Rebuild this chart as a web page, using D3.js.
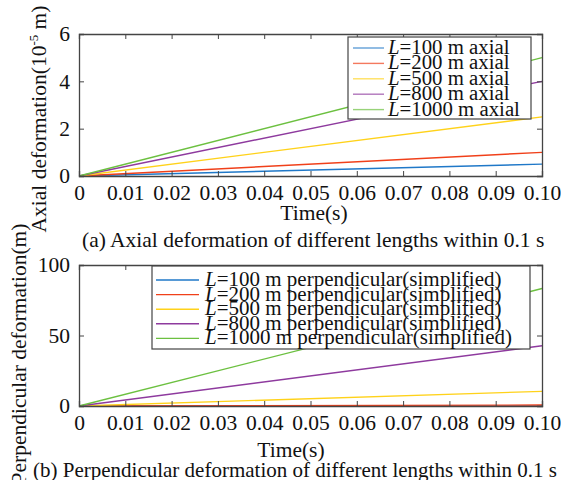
<!DOCTYPE html>
<html><head><meta charset="utf-8">
<script src="https://cdn.jsdelivr.net/npm/d3@7"></script>
<style>
body{margin:0;background:#fff}
text{font-family:"Liberation Serif","Times New Roman",serif;fill:#111}
</style></head>
<body>
<svg id="c" width="561" height="480"></svg>
<script>
const times = [0, 0.1];
const xTicks = [0,0.01,0.02,0.03,0.04,0.05,0.06,0.07,0.08,0.09,0.10];
const lengths = ["100","200","500","800","1000"];
const colors = ["#1f78c8","#f0401a","#ffd21a","#8e3a9e","#6cc040"];
const axialValues = [[0,0.5],[0,1.0],[0,2.5],[0,4.0],[0,5.0]];
const perpValues = [[0,0.08],[0,0.67],[0,10.4],[0,42.7],[0,83.3]];
const axialTicks = [0,2,4,6];
const perpTicks = [0,50,100];

const FS = "21.5px";
const svg = d3.select("#c");
const x = d3.scaleLinear().domain([0,0.1]).range([79,542]);
const fmtX = d => d===0 ? "0" : d3.format(".2f")(d);

function panel(o){
  const y = d3.scaleLinear().domain(o.domain).range([o.bottom,o.top]);
  const g = svg.append("g");
  const line = d3.line().x((d,i)=>x(times[i])).y(d=>y(d));
  o.values.forEach((v,i)=>{
    g.append("path").attr("d",line(v)).attr("fill","none")
     .attr("stroke",colors[i]).attr("stroke-width",1.4);
  });
  const ax = g.append("g").attr("transform",`translate(0,${o.bottom})`)
    .call(d3.axisBottom(x).tickValues(xTicks).tickFormat(fmtX).tickSize(-5).tickPadding(9));
  const axT = g.append("g").attr("transform",`translate(0,${o.top})`)
    .call(d3.axisTop(x).tickValues(xTicks).tickFormat("").tickSize(-5));
  const ay = g.append("g").attr("transform",`translate(79,0)`)
    .call(d3.axisLeft(y).tickValues(o.ticks).tickFormat(d3.format("d")).tickSize(-5).tickPadding(9));
  const ayR = g.append("g").attr("transform",`translate(542,0)`)
    .call(d3.axisRight(y).tickValues(o.ticks).tickFormat("").tickSize(-5));
  [ax,axT,ay,ayR].forEach(a=>{
    a.select(".domain").attr("stroke","#444").attr("stroke-width",1.3);
    a.selectAll(".tick line").attr("stroke","#444");
    a.selectAll("text").style("font-size",FS).attr("fill","#111")
      .style("font-family","'Liberation Serif',serif");
  });
  const lg = g.append("g");
  lg.append("rect").attr("x",o.leg.x0).attr("y",o.leg.y0)
    .attr("width",o.leg.x1-o.leg.x0).attr("height",o.leg.y1-o.leg.y0)
    .attr("fill","#fff").attr("stroke","#444").attr("stroke-width",1.2);
  lengths.forEach((L,i)=>{
    const yy = o.leg.row0 + i*o.leg.dy;
    lg.append("line").attr("x1",o.leg.lx0).attr("x2",o.leg.lx1)
      .attr("y1",yy).attr("y2",yy).attr("stroke",colors[i])
      .attr("stroke-width",1.4).attr("stroke-opacity",o.leg.op);
    const t = lg.append("text").attr("x",o.leg.tx).attr("y",yy+6)
      .style("font-size",o.leg.fs);
    t.append("tspan").style("font-style","italic").text("L");
    t.append("tspan").text("="+L+" m "+o.suffix);
  });
  g.append("text").attr("x",o.timeX).attr("y",o.timeY).attr("text-anchor","middle")
    .style("font-size",FS).text("Time(s)");
  g.append("text").attr("x",o.capX).attr("y",o.capY)
    .style("font-size",o.capFs).text(o.caption);
  return g;
}

panel({domain:[0,6],top:34,bottom:176,values:axialValues,ticks:axialTicks,
  leg:{x0:348,x1:531,y0:37,y1:119,row0:48,dy:15.4,lx0:353,lx1:384,tx:388,op:0.7,fs:"20.8px"},
  suffix:"axial",timeX:314,timeY:220,capX:82,capY:247,capFs:FS,
  caption:"(a) Axial deformation of different lengths within 0.1 s"});

panel({domain:[0,100],top:265,bottom:406,values:perpValues,ticks:perpTicks,
  leg:{x0:152,x1:530,y0:266,y1:349,row0:280,dy:14.6,lx0:156,lx1:199,tx:205,op:1,fs:"21px"},
  suffix:"perpendicular(simplified)",timeX:291,timeY:457,capX:33,capY:477,capFs:"21px",
  caption:"(b) Perpendicular deformation of different lengths within 0.1 s"});

const yl1 = svg.append("text").attr("transform","translate(46,119) rotate(-90)")
  .attr("text-anchor","middle").style("font-size",FS);
yl1.append("tspan").text("Axial deformation(10");
yl1.append("tspan").attr("dy",-8).style("font-size","13px").text("-5");
yl1.append("tspan").attr("dy",8).text(" m)");

svg.append("text").attr("transform","translate(26,354) rotate(-90)")
  .attr("text-anchor","middle").style("font-size",FS)
  .text("Perpendicular deformation(m)");
</script>
</body></html>
